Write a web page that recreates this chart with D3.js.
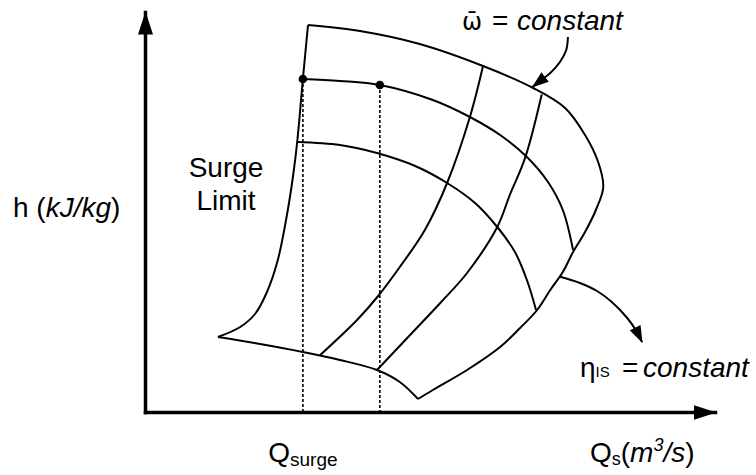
<!DOCTYPE html>
<html>
<head>
<meta charset="utf-8">
<script src="https://cdn.jsdelivr.net/npm/d3@7"></script>
<style>
body { margin: 0; background: #fff; }
text { font-family: "Liberation Sans", Arial, sans-serif; fill: #000; }
</style>
</head>
<body>
<div id="chart"></div>
<script>
// compressor map sketch, normalised units: Q (flow) and h (head) both 0..100
var surgeLine = [[12.8,18.75],[16.7,21.25],[19.3,24.5],[21.4,30],[23.3,38],[24.9,49.25],[26.0,59.25],[26.7,67.5],[27.7,83.25],[28.6,96.75]];
// top speed line running round into the choke side
var outerLine = [[28.6,96.75],[37.7,95.25],[48.2,92],[59.3,86.5],[68.1,81],[73.7,76],[77.2,69.25],[79.5,62.5],[80.4,56.25],[79.1,50.5],[77.2,45],[75.1,40],[73.3,35],[71.1,30.5],[68.8,25.5],[65.8,21],[62.3,16.25],[56.5,10.5],[50.5,5.5],[47.9,3.25]];
var speedLines = [
  [[12.8,18.75],[20.2,17],[27.7,15],[34.2,13],[40.7,10.5],[44.7,7.5],[47.9,3.25]],
  [[27.7,83.25],[34.2,82.75],[41.2,81.75],[50.5,78],[57.0,73.75],[62.3,69.25],[67.0,63.75],[70.7,57.5],[73.3,50.5],[75.1,40.5]],
  [[26.7,67.5],[34.2,66.75],[40.7,64.75],[47.4,61.5],[53.0,57.25],[57.9,52.25],[61.8,46.25],[64.9,40],[67.0,33],[68.6,25.5]]
];
var effLines = [
  [[59.3,86.5],[57.0,73.75],[53.0,57.25],[49.1,45.5],[44.7,36.25],[40.9,29],[37.2,23],[30.7,14.2]],
  [[69.6,79.4],[66.7,63.6],[64.0,54.25],[61.8,46.25],[56.5,34.75],[51.8,27.25],[46.5,19.25],[40.7,10.5]]
];
var opPoints = [[27.7,83.25],[41.2,81.75]];   // first one sits on the surge line
var omegaArrow = [[74.2,93.75],[73.9,90.5],[72.8,87.5],[71.1,84.75],[69.3,82.75],[68.0,81.3]];
var etaArrow = [[72.8,33.8],[76.3,32.25],[79.3,30.25],[81.9,27.5],[84.6,23.5],[86.1,20.5],[87.2,17.5]];

var width = 756, height = 475;

var x = d3.scaleLinear().domain([0, 100]).range([145, 715]);
var y = d3.scaleLinear().domain([0, 100]).range([412, 12]);

var svg = d3.select("#chart").append("svg")
    .attr("width", width)
    .attr("height", height);

var defs = svg.append("defs");
defs.append("marker")
    .attr("id", "axisHead")
    .attr("markerUnits", "userSpaceOnUse")
    .attr("viewBox", "0 -8 23 16")
    .attr("markerWidth", 23).attr("markerHeight", 16)
    .attr("refX", 22).attr("refY", 0)
    .attr("orient", "auto")
    .append("path").attr("d", "M0,-7.5L23,0L0,7.5Z").attr("fill", "#000");
defs.append("marker")
    .attr("id", "noteHead")
    .attr("markerUnits", "userSpaceOnUse")
    .attr("viewBox", "0 -7 17 14")
    .attr("markerWidth", 17).attr("markerHeight", 14)
    .attr("refX", 16).attr("refY", 0)
    .attr("orient", "auto")
    .append("path").attr("d", "M0,-6L17,0L0,6Z").attr("fill", "#000");

var line = d3.line()
    .x(function(d) { return x(d[0]); })
    .y(function(d) { return y(d[1]); })
    .curve(d3.curveCatmullRom.alpha(0.5));

// axes without ticks, just arrows
svg.append("g")
    .attr("transform", "translate(0," + y(0) + ")")
    .call(d3.axisBottom(x).tickValues([]).tickSizeOuter(0));
svg.append("g")
    .attr("transform", "translate(" + x(0) + ",0)")
    .call(d3.axisLeft(y).tickValues([]).tickSizeOuter(0));
svg.selectAll(".domain")
    .attr("stroke", "#000")
    .attr("stroke-width", 3.5)
    .attr("stroke-linecap", "square")
    .attr("marker-end", "url(#axisHead)");

// dashed drops from the operating points
svg.selectAll(".drop")
    .data(opPoints)
    .enter().append("line")
    .attr("class", "drop")
    .attr("x1", function(d) { return x(d[0]); })
    .attr("x2", function(d) { return x(d[0]); })
    .attr("y1", function(d) { return y(d[1]); })
    .attr("y2", y(0))
    .attr("stroke", "#000")
    .attr("stroke-width", 1.6)
    .attr("stroke-dasharray", "3,2");

var curves = [surgeLine, outerLine].concat(speedLines, effLines);
svg.selectAll(".map")
    .data(curves)
    .enter().append("path")
    .attr("class", "map")
    .attr("d", line)
    .attr("fill", "none")
    .attr("stroke", "#000")
    .attr("stroke-width", 2);

svg.selectAll(".op")
    .data(opPoints)
    .enter().append("circle")
    .attr("cx", function(d) { return x(d[0]); })
    .attr("cy", function(d) { return y(d[1]); })
    .attr("r", 4.3)
    .attr("fill", "#000");

svg.selectAll(".note")
    .data([omegaArrow, etaArrow])
    .enter().append("path")
    .attr("class", "note")
    .attr("d", line)
    .attr("fill", "none")
    .attr("stroke", "#000")
    .attr("stroke-width", 2)
    .attr("marker-end", "url(#noteHead)");

// labels
var fs = 28;
var hLab = svg.append("text").attr("x", 13).attr("y", 217).style("font-size", fs + "px");
hLab.append("tspan").text("h (");
hLab.append("tspan").style("font-style", "italic").text("kJ/kg");
hLab.append("tspan").text(")");

svg.append("text").attr("x", 226).attr("y", 177).attr("text-anchor", "middle")
    .style("font-size", fs + "px").text("Surge");
svg.append("text").attr("x", 226).attr("y", 210).attr("text-anchor", "middle")
    .style("font-size", fs + "px").text("Limit");

var qs = svg.append("text").attr("x", x(opPoints[0][0])).attr("y", 462)
    .attr("text-anchor", "middle").style("font-size", fs + "px");
qs.append("tspan").text("Q");
qs.append("tspan").attr("dy", 4).style("font-size", "19px").text("surge");

var qa = svg.append("text").attr("x", 590).attr("y", 462).style("font-size", fs + "px");
qa.append("tspan").text("Q");
qa.append("tspan").attr("dy", 3).style("font-size", "18px").text("s");
qa.append("tspan").attr("dy", -3).text("(");
qa.append("tspan").style("font-style", "italic").text("m");
qa.append("tspan").attr("dy", -11).style("font-style", "italic").style("font-size", "18px").text("3");
qa.append("tspan").attr("dy", 11).style("font-style", "italic").text("/s");
qa.append("tspan").text(")");

var om = svg.append("text").attr("x", 462).attr("y", 30).style("font-size", fs + "px");
om.append("tspan").style("font-family", "'DejaVu Sans'").style("font-size", "24px").text("\u03C9\u0304");
om.append("tspan").attr("x", 492).text("=");
om.append("tspan").attr("x", 517).style("font-style", "italic").text("constant");

var et = svg.append("text").attr("x", 580).attr("y", 377).style("font-size", fs + "px");
et.append("tspan").text("\u03B7");
et.append("tspan").style("font-size", "15px").text("IS");
et.append("tspan").attr("x", 622).text("=");
et.append("tspan").attr("x", 643).style("font-style", "italic").text("constant");
</script>
</body>
</html>
